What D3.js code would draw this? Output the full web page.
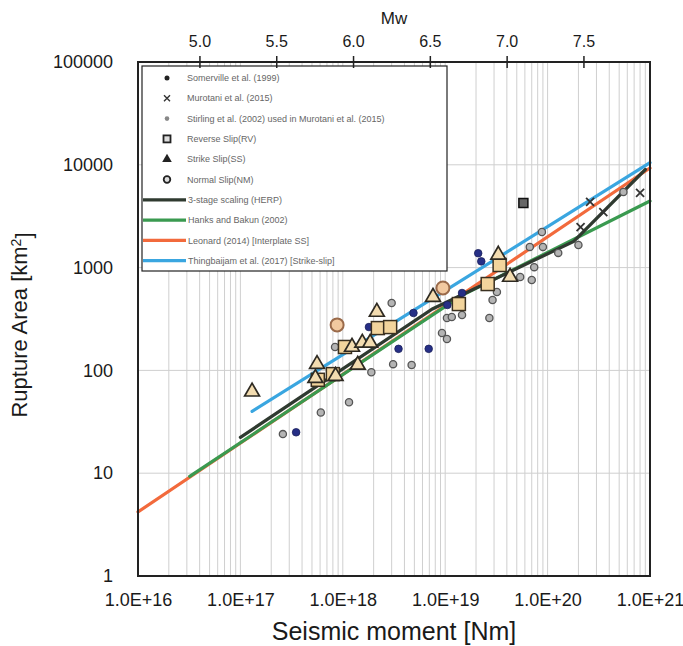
<!DOCTYPE html>
<html>
<head>
<meta charset="utf-8">
<script src="https://cdn.jsdelivr.net/npm/d3@7"></script>
<style>
  body { margin: 0; background: #fff; }
  svg { display: block; font-family: "Liberation Sans", Arial, sans-serif; }
</style>
</head>
<body>
<div id="chart"></div>
<script>
// axis ticks
const xTicks = [1e16, 1e17, 1e18, 1e19, 1e20, 1e21];
const yTicks = [1, 10, 100, 1000, 10000, 100000];
const mwTicks = [5.0, 5.5, 6.0, 6.5, 7.0, 7.5];

// data points [M0 (Nm), area (km2)]
const somerville = [[3.5e17, 25], [1.8e18, 264], [3.5e18, 162], [4.9e18, 362], [6.9e18, 162],
  [1.05e19, 433], [1.46e19, 566], [2.1e19, 1380], [2.25e19, 1150]];
const murotani = [[2.1e20, 2480], [2.6e20, 4350], [3.5e20, 3470], [8.0e20, 5320]];
const stirling = [[2.6e17, 24], [6.1e17, 39], [1.15e18, 49], [1.9e18, 96], [3.1e18, 115], [4.7e18, 113],
  [3.0e18, 453], [8.4e17, 169], [9.3e18, 231], [1.04e19, 202], [1.04e19, 323], [1.16e19, 331],
  [1.46e19, 346], [2.7e19, 323], [2.9e19, 484], [3.2e19, 579], [5.4e19, 811], [7.0e19, 757],
  [7.4e19, 1010], [8.8e19, 2220], [6.7e19, 1590], [9.0e19, 1590], [1.27e20, 1390], [2.0e20, 1660],
  [5.5e20, 5440]];
const reverse = [[5.7e17, 81], [8.0e17, 92], [1.05e18, 169], [2.2e18, 258], [2.9e18, 264],
  [1.36e19, 442], [2.6e19, 692], [3.4e19, 1060]];
const strike = [[1.3e17, 62], [5.6e17, 115], [5.4e17, 84], [8.5e17, 88], [1.4e18, 113], [1.23e18, 169],
  [1.55e18, 185], [1.85e18, 185], [2.15e18, 370], [7.6e18, 517], [3.3e19, 1330], [4.3e19, 811]];
const normal = [[8.8e17, 277], [9.5e18, 634]];
const isolated = [[5.8e19, 4250]];

// scaling relations
const herp = [[1e17, 22.3], [7.5e18, 396], [1.8e20, 1800], [9e20, 9000]];
const hanksBakun = [[3.2e16, 9.3], [1.46e19, 537], [1e21, 4440]];
const leonard = [[1e16, 4.2], [1e21, 9300]];
const thingbaijam = [[1.3e17, 40], [1e21, 10500]];

const W = 683, H = 646;
const svg = d3.select('#chart').append('svg').attr('width', W).attr('height', H);

const x = d3.scaleLog().domain([1e16, 1e21]).range([138, 650]);
const y = d3.scaleLog().domain([1, 1e5]).range([576, 62]);
const mwToM0 = mw => Math.pow(10, 1.5 * mw + 9.1);

// grid
svg.append('g').selectAll('line').data(x.ticks())
  .join('line')
  .attr('x1', d => x(d)).attr('x2', d => x(d))
  .attr('y1', 62).attr('y2', 576)
  .style('stroke', '#cfcfcf').style('stroke-width', 1);
svg.append('g').selectAll('line').data(yTicks)
  .join('line')
  .attr('x1', 138).attr('x2', 650)
  .attr('y1', d => y(d)).attr('y2', d => y(d))
  .style('stroke', '#cfcfcf').style('stroke-width', 1);

// legend box (covers grid)
const lg = svg.append('g');
lg.append('rect')
  .attr('x', 142).attr('y', 66).attr('width', 305).attr('height', 205)
  .style('fill', '#fff').style('stroke', '#222').style('stroke-width', 1.2);

// lines
const line = d3.line().x(d => x(d[0])).y(d => y(d[1]));
const lineSeries = [
  {name: '3-stage scaling (HERP)', data: herp, color: '#2f3a30'},
  {name: 'Hanks and Bakun (2002)', data: hanksBakun, color: '#3a9a50'},
  {name: 'Leonard (2014) [Interplate SS]', data: leonard, color: '#f26a3c'},
  {name: 'Thingbaijam et al. (2017) [Strike-slip]', data: thingbaijam, color: '#3aa6e0'}
];
const drawOrder = [2, 1, 0, 3];
drawOrder.forEach(i => {
  svg.append('path').datum(lineSeries[i].data)
    .attr('d', line)
    .style('fill', 'none')
    .style('stroke', lineSeries[i].color)
    .style('stroke-width', 3.2)
    .style('stroke-linecap', 'round');
});

// points
const tri = d3.symbol().type(d3.symbolTriangle).size(95);

svg.append('g').selectAll('circle').data(stirling)
  .join('circle')
  .attr('cx', d => x(d[0])).attr('cy', d => y(d[1])).attr('r', 3.6)
  .style('fill', '#b4b4b4').style('stroke', '#555').style('stroke-width', 1.3);

svg.append('g').selectAll('circle').data(somerville)
  .join('circle')
  .attr('cx', d => x(d[0])).attr('cy', d => y(d[1])).attr('r', 3.8)
  .style('fill', '#262f86').style('stroke', '#1a1f5a').style('stroke-width', 0.8);

svg.append('g').selectAll('path').data(murotani)
  .join('path')
  .attr('d', d => {
    const cx = x(d[0]), cy = y(d[1]), s = 4;
    return `M${cx - s},${cy - s}L${cx + s},${cy + s}M${cx - s},${cy + s}L${cx + s},${cy - s}`;
  })
  .style('stroke', '#333').style('stroke-width', 1.8);

svg.append('g').selectAll('rect').data(isolated)
  .join('rect')
  .attr('x', d => x(d[0]) - 4.5).attr('y', d => y(d[1]) - 4.5)
  .attr('width', 9).attr('height', 9)
  .style('fill', '#666').style('stroke', '#111').style('stroke-width', 1.5);

svg.append('g').selectAll('rect').data(reverse)
  .join('rect')
  .attr('x', d => x(d[0]) - 6.5).attr('y', d => y(d[1]) - 6.5)
  .attr('width', 13).attr('height', 13)
  .style('fill', '#f2d49c').style('stroke', '#3a3020').style('stroke-width', 1.5);

svg.append('g').selectAll('path').data(strike)
  .join('path')
  .attr('d', tri)
  .attr('transform', d => `translate(${x(d[0])},${y(d[1])})`)
  .style('fill', '#f3dcb0').style('stroke', '#2e2a22').style('stroke-width', 1.7);

svg.append('g').selectAll('circle').data(normal)
  .join('circle')
  .attr('cx', d => x(d[0])).attr('cy', d => y(d[1])).attr('r', 6.5)
  .style('fill', '#f2c9a0').style('stroke', '#9a6a4a').style('stroke-width', 2);

// legend content
const pointLegend = ['Somerville et al. (1999)', 'Murotani et al. (2015)',
  'Stirling et al. (2002) used in Murotani et al. (2015)', 'Reverse Slip(RV)',
  'Strike Slip(SS)', 'Normal Slip(NM)'];
const rowY = i => 78 + i * 20.3;
pointLegend.forEach((t, i) => {
  lg.append('text').attr('x', 187).attr('y', rowY(i)).attr('dy', '0.35em')
    .style('font-size', '9px').style('fill', '#666').text(t);
});
const mx = 167;
lg.append('circle').attr('cx', mx).attr('cy', rowY(0)).attr('r', 2.5).style('fill', '#222');
lg.append('path')
  .attr('d', `M${mx - 3},${rowY(1) - 3}L${mx + 3},${rowY(1) + 3}M${mx - 3},${rowY(1) + 3}L${mx + 3},${rowY(1) - 3}`)
  .style('stroke', '#333').style('stroke-width', 1.4);
lg.append('circle').attr('cx', mx).attr('cy', rowY(2)).attr('r', 2.3).style('fill', '#888');
lg.append('rect').attr('x', mx - 3.5).attr('y', rowY(3) - 3.5).attr('width', 7).attr('height', 7)
  .style('fill', '#ddd').style('stroke', '#222').style('stroke-width', 1.8);
lg.append('path').attr('d', d3.symbol().type(d3.symbolTriangle).size(40))
  .attr('transform', `translate(${mx},${rowY(4)})`).style('fill', '#222');
lg.append('circle').attr('cx', mx).attr('cy', rowY(5)).attr('r', 3.3)
  .style('fill', '#ddd').style('stroke', '#222').style('stroke-width', 1.8);

lineSeries.forEach((s, i) => {
  const ly = rowY(6 + i);
  lg.append('line').attr('x1', 143).attr('x2', 186).attr('y1', ly).attr('y2', ly)
    .style('stroke', s.color).style('stroke-width', 3.2);
  lg.append('text').attr('x', 188).attr('y', ly).attr('dy', '0.35em')
    .style('font-size', '9px').style('fill', '#666').text(s.name);
});

// frame
svg.append('rect').attr('x', 138).attr('y', 62).attr('width', 512).attr('height', 514)
  .style('fill', 'none').style('stroke', '#222').style('stroke-width', 2);

// axes
const xAxis = svg.append('g').attr('transform', 'translate(0,576)')
  .call(d3.axisBottom(x).tickValues(xTicks).tickSize(0).tickPadding(17)
    .tickFormat(d => '1.0E+' + Math.round(Math.log10(d))));
const yAxis = svg.append('g').attr('transform', 'translate(138,0)')
  .call(d3.axisLeft(y).tickValues(yTicks).tickSize(0).tickPadding(25).tickFormat(d3.format('d')));
const topAxis = svg.append('g').attr('transform', 'translate(0,62)')
  .call(d3.axisTop(x).tickValues(mwTicks.map(mwToM0)).tickSize(6).tickPadding(9)
    .tickFormat(d => ((Math.log10(d) - 9.1) / 1.5).toFixed(1)));
topAxis.selectAll('.tick line').attr('y1', 6).style('stroke', '#222').style('stroke-width', 1.5);

[xAxis, yAxis, topAxis].forEach(g => {
  g.select('.domain').remove();
  g.selectAll('text').style('font-family', '"Liberation Sans", Arial, sans-serif')
    .style('fill', '#1a1a1a');
});
xAxis.selectAll('text').style('font-size', '18px');
yAxis.selectAll('text').style('font-size', '18px');
topAxis.selectAll('text').style('font-size', '16px');

// titles
svg.append('text').attr('x', 394).attr('y', 24).attr('text-anchor', 'middle')
  .style('font-size', '17px').style('fill', '#1a1a1a').text('Mw');
svg.append('text').attr('x', 394).attr('y', 640).attr('text-anchor', 'middle')
  .style('font-size', '25px').style('fill', '#1a1a1a').text('Seismic moment [Nm]');
const yt = svg.append('text').attr('transform', 'translate(27,325) rotate(-90)')
  .attr('text-anchor', 'middle').style('font-size', '22px').style('fill', '#1a1a1a');
yt.append('tspan').text('Rupture Area [km');
yt.append('tspan').attr('dy', '-0.45em').style('font-size', '14px').text('2');
yt.append('tspan').attr('dy', '0.45em').text(']');
</script>
</body>
</html>
